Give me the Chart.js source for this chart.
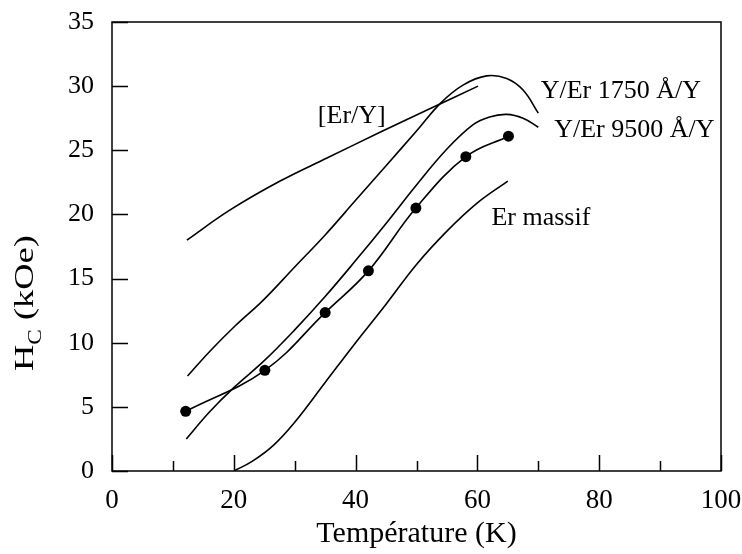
<!DOCTYPE html>
<html>
<head>
<meta charset="utf-8">
<script src="https://cdn.jsdelivr.net/npm/chart.js@4.4.1/dist/chart.umd.min.js"></script>
<style>
  html, body { margin: 0; padding: 0; background: #fff; }
</style>
</head>
<body>
<canvas id="hcChart" width="742" height="554"></canvas>
<script>
// values: temperature (K) / coercive field Hc (kOe)
const erYT = [12.3, 19.4, 27.6, 35.3, 44.0, 52.0, 60.1];
const erYH = [18.0, 20.35, 22.6, 24.4, 26.4, 28.2, 30.0];

const y1750T = [12.4, 16.0, 20.2, 24.8, 30.0, 35.0, 40.0, 45.0, 50.0, 54.0, 57.7, 61.5, 64.8, 67.5, 70.0];
const y1750H = [7.4, 9.3, 11.3, 13.3, 15.9, 18.4, 21.1, 23.8, 26.5, 28.7, 30.1, 30.8, 30.6, 29.7, 27.9];

const y9500T = [12.2, 16.0, 20.0, 25.0, 30.0, 35.0, 40.0, 45.0, 50.0, 55.0, 59.3, 62.0, 64.8, 67.5, 70.0];
const y9500H = [2.5, 4.6, 6.5, 8.6, 11.0, 13.6, 16.4, 19.3, 22.3, 25.1, 27.0, 27.6, 27.8, 27.5, 26.8];

const measT = [12.1, 25.1, 35.0, 42.1, 49.9, 58.1, 65.1];
const measH = [4.65, 7.85, 12.35, 15.6, 20.5, 24.5, 26.1];

const massifT = [20.0, 23.0, 26.5, 30.0, 35.0, 40.0, 45.0, 50.0, 55.0, 60.0, 65.0];
const massifH = [0.0, 0.75, 2.0, 3.8, 6.9, 10.0, 13.0, 16.1, 18.7, 20.9, 22.6];

const xTickValues = [0, 20, 40, 60, 80, 100];
const yTickValues = [0, 5, 10, 15, 20, 25, 30, 35];

// curve labels, anchored in data units (left edge, baseline)
const curveLabels = [
    { text: "[Er/Y]", x: 33.8, y: 27.1 },
    { text: "Y/Er 1750 \u00C5/Y", x: 70.4, y: 29.1 },
    { text: "Y/Er 9500 \u00C5/Y", x: 72.6, y: 26.05 },
    { text: "Er massif", x: 62.3, y: 19.2 },
];

const SERIF = '"Liberation Serif", "Times New Roman", serif';
const pts = (xs, ys) => xs.map((x, i) => ({ x: x, y: ys[i] }));

function curve(data) {
    return {
        data: data,
        showLine: true,
        borderColor: "#000",
        borderWidth: 1.6,
        pointRadius: 0,
        tension: 0.4,
        fill: false
    };
}

// box, inward ticks, curve labels and the y title
const figureDecor = {
    id: "figureDecor",
    afterDatasetsDraw(chart) {
        const { ctx, chartArea: a, scales } = chart;
        const xs = scales.x, ys = scales.y;
        ctx.save();
        ctx.strokeStyle = "#000";
        ctx.lineWidth = 1.5;
        ctx.strokeRect(a.left, a.top, a.right - a.left, a.bottom - a.top);

        ctx.beginPath();
        for (let v = 0; v <= 100; v += 10) {
            const px = Math.round(xs.getPixelForValue(v)) + 0.5;
            const len = v % 20 === 0 ? 16 : 10;
            ctx.moveTo(px, a.bottom);
            ctx.lineTo(px, a.bottom - len);
        }
        yTickValues.forEach(v => {
            const py = Math.round(ys.getPixelForValue(v)) + 0.5;
            ctx.moveTo(a.left, py);
            ctx.lineTo(a.left + 16, py);
        });
        ctx.stroke();

        ctx.fillStyle = "#000";
        ctx.textBaseline = "alphabetic";
        ctx.textAlign = "left";
        ctx.font = "26px " + SERIF;
        curveLabels.forEach(l => {
            ctx.fillText(l.text, xs.getPixelForValue(l.x), ys.getPixelForValue(l.y));
        });

        // H_C (kOe), rotated and stretched along its length like the scan
        ctx.translate(33, 371);
        ctx.rotate(-Math.PI / 2);
        ctx.scale(1.3, 1);
        ctx.font = "28px " + SERIF;
        ctx.fillText("H", 0, 0);
        let w = ctx.measureText("H").width;
        ctx.font = "18px " + SERIF;
        ctx.fillText("C", w, 8);
        w += ctx.measureText("C").width;
        ctx.font = "28px " + SERIF;
        ctx.fillText(" (kOe)", w, 0);
        ctx.restore();
    }
};

new Chart(document.getElementById("hcChart"), {
    type: "scatter",
    data: {
        datasets: [
            curve(pts(erYT, erYH)),
            curve(pts(y1750T, y1750H)),
            curve(pts(y9500T, y9500H)),
            curve(pts(massifT, massifH)),
            Object.assign(curve(pts(measT, measH)), {
                pointRadius: 5.5,
                pointBackgroundColor: "#000",
                pointBorderColor: "#000",
                pointBorderWidth: 0
            })
        ]
    },
    options: {
        responsive: false,
        animation: false,
        devicePixelRatio: 1,
        layout: { padding: { top: 22, right: 21, left: 0, bottom: 0 } },
        plugins: { legend: { display: false }, tooltip: { enabled: false } },
        scales: {
            x: {
                type: "linear",
                min: 0,
                max: 100,
                afterBuildTicks: s => { s.ticks = xTickValues.map(v => ({ value: v })); },
                afterFit: s => { s.height = 83; s.paddingLeft = 0; s.paddingRight = 0; },
                grid: { display: false, drawTicks: false },
                border: { display: false },
                ticks: { color: "#000", padding: 14, font: { family: SERIF, size: 27 } },
                title: {
                    display: true,
                    text: "Température (K)",
                    color: "#000",
                    font: { family: SERIF, size: 30 },
                    padding: { top: 0, bottom: 2 }
                }
            },
            y: {
                type: "linear",
                min: 0,
                max: 35,
                afterBuildTicks: s => { s.ticks = yTickValues.map(v => ({ value: v })); },
                afterFit: s => { s.width = 112; s.paddingTop = 0; s.paddingBottom = 0; },
                grid: { display: false, drawTicks: false },
                border: { display: false },
                ticks: { color: "#000", padding: 18, font: { family: SERIF, size: 26 } }
            }
        }
    },
    plugins: [figureDecor]
});
</script>
</body>
</html>
